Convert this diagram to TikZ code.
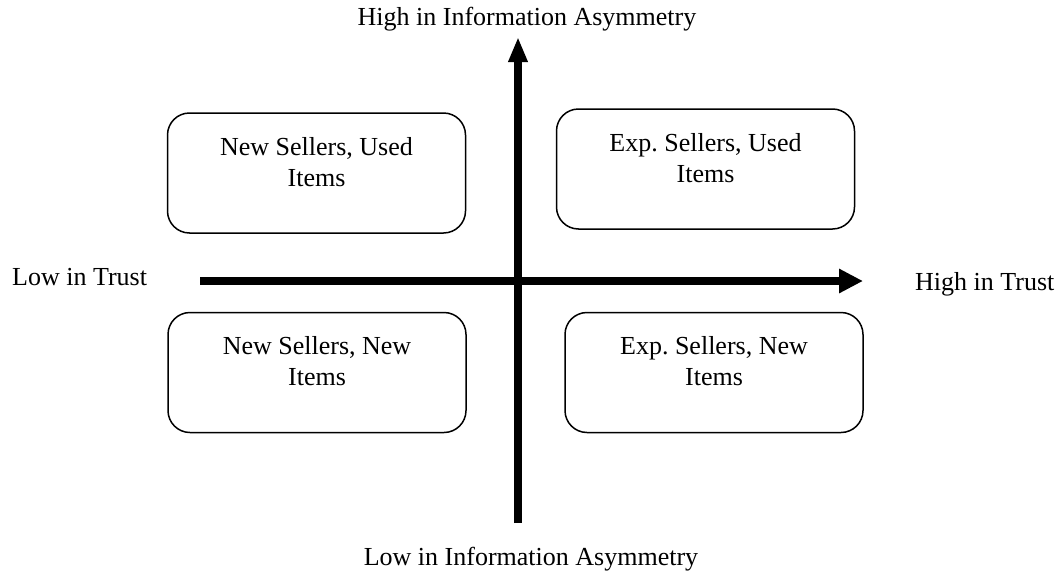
\documentclass[tikz,border=0pt]{standalone}
\usepackage{fontspec}
\setmainfont{Liberation Serif}
\usetikzlibrary{arrows.meta}
\frenchspacing
\begin{document}
\begin{tikzpicture}[x=1pt,y=-1pt,
  every node/.style={font=\fontsize{26}{31}\selectfont, inner sep=0pt},
  quad/.style={draw, line width=1.5pt, rounded corners=22pt, minimum width=298pt, minimum height=120pt},
  quadtext/.style={anchor=north, align=center},
  axis/.style={line width=7.5pt}
]
\useasboundingbox (0,0) rectangle (1060,573);

% quadrant boxes
\node[quad] (nsui) at (316.5,173) {};
\node[quad] (esui) at (705.5,169) {};
\node[quad] (nsni) at (317,372.5) {};
\node[quad] (esni) at (714,372.5) {};

\node[quadtext] (nsuiT) at ([yshift=-25pt]nsui.north) {New Sellers, Used\\Items};
\node[quadtext] (esuiT) at ([yshift=-25pt]esui.north) {Exp. Sellers, Used\\Items};
\node[quadtext] (nsniT) at ([yshift=-25pt]nsni.north) {New Sellers, New\\Items};
\node[quadtext] (esniT) at ([yshift=-25pt]esni.north) {Exp. Sellers, New\\Items};

% axes
\coordinate (vbot) at (518,523);
\coordinate (vtop) at (518,37);
\coordinate (hleft) at (200,281);
\coordinate (hright) at (863,281);
\draw[axis, -{Triangle[length=25pt,width=18pt]}] (vbot) -- (vtop);
\draw[axis, -{Triangle[length=24pt,width=23pt]}] (hleft) -- (hright);

% axis labels
\node[anchor=base] (infohigh) at (527,25) {High in Information Asymmetry};
\node[anchor=base] (infolow) at (531,565) {Low in Information Asymmetry};
\node[anchor=base west] (trustlow) at (12,285) {Low in Trust};
\node[anchor=base west] (trusthigh) at (915,290) {High in Trust};
\end{tikzpicture}
\end{document}
